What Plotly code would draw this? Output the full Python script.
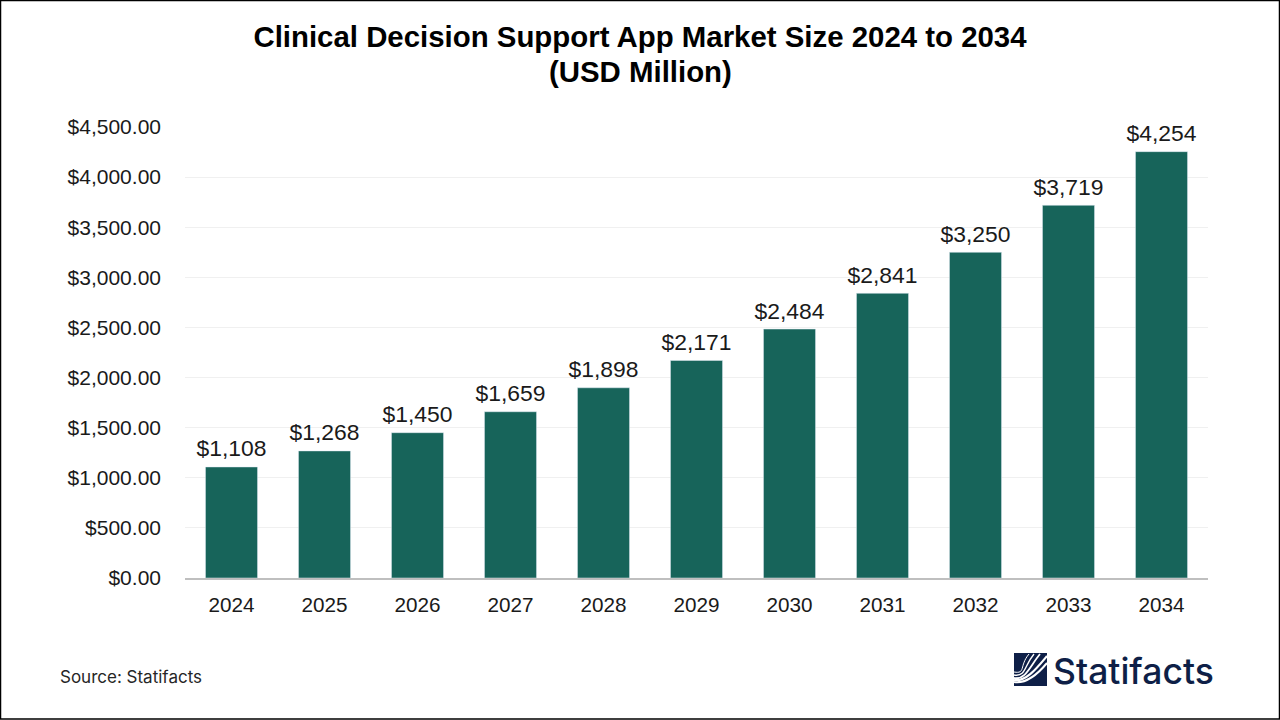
"""Plotly bar chart for the clinical decision support app market."""

from __future__ import annotations

import plotly.graph_objects as go

_CHART_BG = "#ffffff"
_GRID_COLOR = "#f0f0f0"
_AXIS_COLOR = "#bfbfbf"
_TEXT_COLOR = "#1a1a1a"
_BAR_COLOR = "#17645a"
_LOGO_COLOR = "#0e1f47"
_WIDTH = 1280
_HEIGHT = 720
_LEFT = 185
_RIGHT = 1208
_TOP = 127
_BOTTOM = 578


def _px(x: float) -> float:
    return (x - _LEFT) / (_RIGHT - _LEFT)


def _py(y: float) -> float:
    return (_BOTTOM - y) / (_BOTTOM - _TOP)


def _logo_shapes() -> list[dict]:
    """Square mark of the logo, drawn with white bands over a navy block."""
    shapes = [
        dict(
            type="rect",
            xref="paper",
            yref="paper",
            x0=_px(1014),
            x1=_px(1047),
            y0=_py(686),
            y1=_py(653),
            fillcolor=_LOGO_COLOR,
            line=dict(width=0),
        )
    ]
    # start y on the left edge, end point on the top or right edge, line width
    bands = [
        (672, 1029, 654, 1.0),
        (675, 1034, 654, 1.4),
        (678, 1040, 654, 1.8),
        (680, 1047, 656, 2.2),
        (682, 1047, 663, 2.0),
    ]
    for y_start, x_end, y_end, width in bands:
        path = (
            f"M {_px(1014)} {_py(y_start)} "
            f"C {_px(1026)} {_py(y_start + 2)}, {_px(x_end - 10)} {_py(y_end + 12)}, "
            f"{_px(x_end)} {_py(y_end)}"
        )
        shapes.append(
            dict(
                type="path",
                xref="paper",
                yref="paper",
                path=path,
                line=dict(color="#ffffff", width=width),
            )
        )
    return shapes


def generate_market_chart(years: list[str], sizes: list[int]) -> go.Figure:
    """Generate the market size column chart."""
    fig = go.Figure()
    fig.add_trace(
        go.Bar(
            x=years,
            y=sizes,
            marker_color=_BAR_COLOR,
            name="Market Size",
        )
    )
    # Labels sit on hidden markers, the marker size sets the gap above the bar
    fig.add_trace(
        go.Scatter(
            x=years,
            y=sizes,
            mode="markers+text",
            marker=dict(size=6, opacity=0),
            text=[f"${s:,}" for s in sizes],
            textposition="top center",
            textfont=dict(color=_TEXT_COLOR, size=22.9, family="Liberation Sans"),
            cliponaxis=False,
            name="Labels",
        )
    )

    # Frame around the whole picture
    frame = dict(
        type="rect",
        xref="paper",
        yref="paper",
        x0=_px(0.5),
        x1=_px(1279.5),
        y0=_py(719),
        y1=_py(0.5),
        line=dict(color="#000000", width=1.5),
    )

    fig.update_layout(
        title=dict(
            text="Clinical Decision Support App Market Size 2024 to 2034",
            font=dict(color="#000000", size=29.4, family="Liberation Sans", weight="bold"),
            x=0.5,
            xanchor="center",
            y=0.9486,
            yanchor="middle",
        ),
        paper_bgcolor=_CHART_BG,
        plot_bgcolor=_CHART_BG,
        font=dict(color=_TEXT_COLOR),
        showlegend=False,
        bargap=0.44,
        xaxis=dict(
            type="category",
            range=[-0.5, 10.5],
            showgrid=False,
            showline=True,
            linecolor=_AXIS_COLOR,
            linewidth=2,
            ticks="",
            ticklabelstandoff=7,
            tickfont=dict(color=_TEXT_COLOR, size=20.7, family="Liberation Sans"),
        ),
        yaxis=dict(
            range=[0, 4500],
            dtick=500,
            gridcolor=_GRID_COLOR,
            zeroline=False,
            tickformat="$,.2f",
            ticklabelstandoff=23,
            tickfont=dict(color=_TEXT_COLOR, size=21, family="Liberation Sans"),
        ),
        margin=dict(l=_LEFT, r=_WIDTH - _RIGHT, t=_TOP, b=_HEIGHT - _BOTTOM, autoexpand=False),
        width=_WIDTH,
        height=_HEIGHT,
        shapes=[frame] + _logo_shapes(),
        annotations=[
            dict(
                text="(USD Million)",
                xref="paper",
                yref="paper",
                x=_px(640),
                y=_py(72),
                xanchor="center",
                yanchor="middle",
                showarrow=False,
                font=dict(color="#000000", size=29.4, family="Liberation Sans", weight="bold"),
            ),
            dict(
                text="Source: Statifacts",
                xref="paper",
                yref="paper",
                x=_px(58),
                y=_py(677),
                xanchor="left",
                yanchor="middle",
                showarrow=False,
                font=dict(color="#262626", size=17, family="Inter"),
            ),
            dict(
                text="Statifacts",
                xref="paper",
                yref="paper",
                x=_px(1051),
                y=_py(671),
                xanchor="left",
                yanchor="middle",
                showarrow=False,
                font=dict(color=_LOGO_COLOR, size=35.5, family="Inter", weight=500),
            ),
        ],
    )
    return fig


years = [str(y) for y in range(2024, 2035)]
sizes = [1108, 1268, 1450, 1659, 1898, 2171, 2484, 2841, 3250, 3719, 4254]

fig = generate_market_chart(years, sizes)
fig.write_html(
    "out.html",
    config=dict(displayModeBar=False),
    post_script="document.body.style.margin = '0'; document.body.style.overflow = 'hidden';",
)
